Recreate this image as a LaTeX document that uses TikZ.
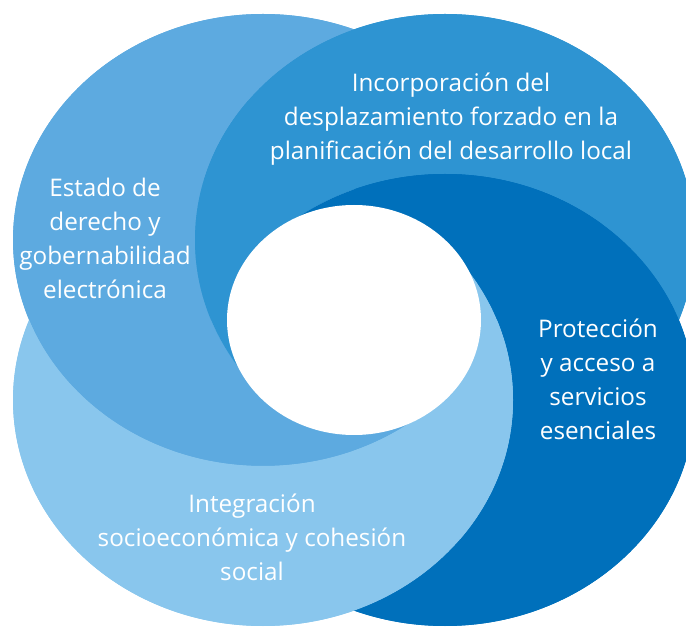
\documentclass[tikz,border=0pt]{standalone}
\usepackage{fontspec}
\setmainfont{Open Sans}

\definecolor{estadoblue}{RGB}{93,170,224}
\definecolor{incorpblue}{RGB}{46,148,210}
\definecolor{protecblue}{RGB}{0,112,187}
\definecolor{integblue}{RGB}{137,198,237}

\tikzset{every picture/.style={line width=0.75pt}}
\tikzset{
  ringlabel/.style={text=white, align=center, inner sep=0.75pt, font=\fontsize{18.2}{25.5}\selectfont},
  disc/.style={x radius=250, y radius=226},
}

\begin{document}
\begin{tikzpicture}[x=0.75pt,y=0.75pt,yscale=-1,xscale=1]
\useasboundingbox (0,0) rectangle (686,627);

%Shape: Ellipses (base layer)
\fill [estadoblue] (263,240) ellipse [disc];
\fill [incorpblue] (445,240) ellipse [disc];
\fill [protecblue] (445,400) ellipse [disc];
\fill [integblue] (263,400) ellipse [disc];

%Shape: Ellipse, Estado (under Incorporacion, over the rest below the hole)
\begin{scope}
\clip (263,240) ellipse [disc];
\fill [estadoblue, even odd rule] (-10,-10) rectangle (700,640) (445,240) ellipse [disc];
\end{scope}
\begin{scope}
\clip (-10,416) rectangle (700,640);
\fill [estadoblue] (263,240) ellipse [disc];
\end{scope}

%Shape: Ellipse, Incorporacion (under Proteccion, over the rest left of the hole)
\begin{scope}
\clip (445,240) ellipse [disc];
\fill [incorpblue, even odd rule] (-10,-10) rectangle (700,640) (445,400) ellipse [disc];
\end{scope}
\begin{scope}
\clip (-10,-10) rectangle (248,640);
\fill [incorpblue] (445,240) ellipse [disc];
\end{scope}

%Shape: Ellipse, Proteccion (under Integracion, over the rest above the hole)
\begin{scope}
\clip (445,400) ellipse [disc];
\fill [protecblue, even odd rule] (-10,-10) rectangle (700,640) (263,400) ellipse [disc];
\end{scope}
\begin{scope}
\clip (-10,-10) rectangle (700,224);
\fill [protecblue] (445,400) ellipse [disc];
\end{scope}

%Shape: Ellipse, Integracion (under Estado, over the rest right of the hole)
\begin{scope}
\clip (263,400) ellipse [disc];
\fill [integblue, even odd rule] (-10,-10) rectangle (700,640) (263,240) ellipse [disc];
\end{scope}
\begin{scope}
\clip (460,-10) rectangle (700,640);
\fill [integblue] (263,400) ellipse [disc];
\end{scope}

%Shape: Ellipse (hole)
\fill [white] (354,320) ellipse [x radius=127, y radius=115];

% Text Node
\node [ringlabel] (estado) at (105,238) {Estado de\\derecho y\\gobernabilidad\\electrónica};
% Text Node
\node [ringlabel] (incorporacion) at (451,119) {Incorporación del\\desplazamiento forzado en la\\planificación del desarrollo local};
% Text Node
\node [ringlabel] (proteccion) at (598,379) {Protección\\y acceso a\\servicios\\esenciales};
% Text Node
\node [ringlabel] (integracion) at (252,537) {Integración\\socioeconómica y cohesión\\social};
\end{tikzpicture}
\end{document}
